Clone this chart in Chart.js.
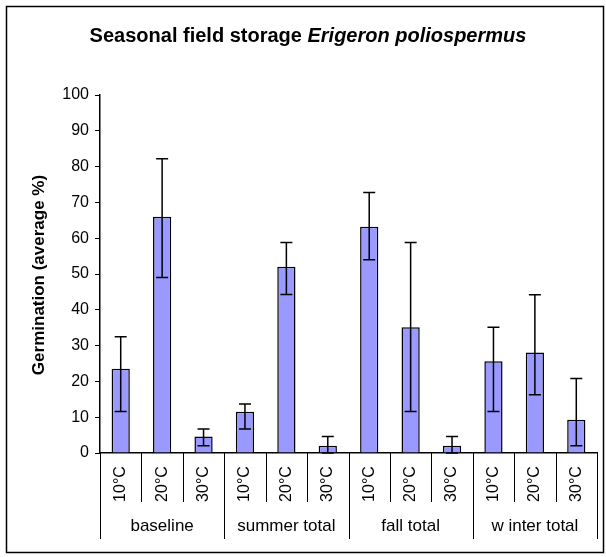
<!DOCTYPE html>
<html lang="en">
<head>
  <meta charset="UTF-8" />
  <title>Seasonal field storage</title>
  <script src="https://cdn.jsdelivr.net/npm/chart.js"></script>
  <style>
    html, body {
      margin: 0;
      padding: 0;
      background: #fff;
    }
    .chart-box {
      width: 606px;
      height: 557px;
      position: relative;
    }
  </style>
</head>
<body>
  <div class="chart-box">
    <canvas id="chart"></canvas>
  </div>
  <script>
    // Germination after seasonal field storage, per temperature
    const groups = ['baseline', 'summer total', 'fall total', 'w inter total'];
    const temps = ['10°C', '20°C', '30°C'];
    const germination = [23.5, 66, 4.6, 11.5, 52, 2, 63.2, 35.1, 2, 25.6, 28.1, 9.3];
    const errUpper = [32.5, 82.2, 6.7, 13.7, 58.8, 4.6, 72.8, 58.8, 4.6, 35.1, 44.2, 20.8];
    const errLower = [11.6, 49, 2, 6.7, 44.3, 0, 54, 11.6, 0, 11.6, 16.3, 2];
    const yTicks = [0, 10, 20, 30, 40, 50, 60, 70, 80, 90, 100];

    const labels = [];
    groups.forEach(g => temps.forEach(t => labels.push(t)));

    const FONT = '"Liberation Sans", Arial, sans-serif';

    // white background + outer frame + title + y axis title
    const framePlugin = {
      id: 'frame',
      beforeDraw(chart) {
        const ctx = chart.ctx;
        ctx.save();
        ctx.fillStyle = '#fff';
        ctx.fillRect(0, 0, chart.width, chart.height);
        ctx.restore();
      },
      afterDraw(chart) {
        const ctx = chart.ctx;
        ctx.save();
        ctx.strokeStyle = '#000';
        ctx.lineWidth = 1.5;
        ctx.strokeRect(6.5, 6.5, 597, 546);

        // title: plain part then italic species name
        const a = 'Seasonal field storage ';
        const b = 'Erigeron poliospermus';
        ctx.fillStyle = '#000';
        ctx.textBaseline = 'alphabetic';
        ctx.font = 'bold 20px ' + FONT;
        const wa = ctx.measureText(a).width;
        ctx.font = 'italic bold 20px ' + FONT;
        const wb = ctx.measureText(b).width;
        const x0 = 308 - (wa + wb) / 2;
        ctx.font = 'bold 20px ' + FONT;
        ctx.textAlign = 'left';
        ctx.fillText(a, x0, 42);
        ctx.font = 'italic bold 20px ' + FONT;
        ctx.fillText(b, x0 + wa, 42);

        // y axis title
        ctx.translate(39, 275);
        ctx.rotate(-Math.PI / 2);
        ctx.font = 'bold 17px ' + FONT;
        ctx.textAlign = 'center';
        ctx.textBaseline = 'middle';
        ctx.fillText('Germination (average %)', 0, 0);
        ctx.restore();
      }
    };

    // error bars from the upper/lower arrays
    const errorBarPlugin = {
      id: 'errorBars',
      afterDatasetsDraw(chart) {
        const ctx = chart.ctx;
        const y = chart.scales.y;
        const meta = chart.getDatasetMeta(0);
        ctx.save();
        ctx.strokeStyle = '#000';
        ctx.lineWidth = 1.5;
        meta.data.forEach((bar, i) => {
          const yHi = y.getPixelForValue(errUpper[i]);
          const yLo = y.getPixelForValue(errLower[i]);
          const cap = 6;
          ctx.beginPath();
          ctx.moveTo(bar.x, yHi);
          ctx.lineTo(bar.x, yLo);
          ctx.moveTo(bar.x - cap, yHi);
          ctx.lineTo(bar.x + cap, yHi);
          ctx.moveTo(bar.x - cap, yLo);
          ctx.lineTo(bar.x + cap, yLo);
          ctx.stroke();
        });
        ctx.restore();
      }
    };

    // two-level category table under the x axis
    const groupAxisPlugin = {
      id: 'groupAxis',
      afterDraw(chart) {
        const ctx = chart.ctx;
        const x = chart.scales.x;
        const area = chart.chartArea;
        const top = area.bottom;
        const n = labels.length;
        const step = x.getPixelForValue(1) - x.getPixelForValue(0);
        const edge = i => x.getPixelForValue(i) - step / 2;
        ctx.save();
        ctx.strokeStyle = '#000';
        ctx.lineWidth = 1;
        for (let i = 0; i <= n; i++) {
          const px = Math.round(edge(i)) + 0.5;
          const len = (i % temps.length === 0) ? 86 : 49;
          ctx.beginPath();
          ctx.moveTo(px, top);
          ctx.lineTo(px, top + len);
          ctx.stroke();
        }
        ctx.fillStyle = '#000';
        ctx.font = '16px ' + FONT;
        // rotated temperature labels
        labels.forEach((t, i) => {
          ctx.save();
          ctx.translate(x.getPixelForValue(i), top + 31);
          ctx.rotate(-Math.PI / 2);
          ctx.textAlign = 'center';
          ctx.textBaseline = 'middle';
          ctx.fillText(t, 0, 0);
          ctx.restore();
        });
        // group labels
        ctx.font = '17px ' + FONT;
        ctx.textAlign = 'center';
        ctx.textBaseline = 'middle';
        groups.forEach((g, gi) => {
          const mid = (edge(gi * 3) + edge(gi * 3 + 3)) / 2;
          ctx.fillText(g, mid, top + 73);
        });
        ctx.restore();
      }
    };

    new Chart(document.getElementById('chart'), {
      type: 'bar',
      data: {
        labels: labels,
        datasets: [{
          label: 'Germination',
          data: germination,
          backgroundColor: '#9999ff',
          borderColor: '#000',
          borderWidth: 1.5,
          categoryPercentage: 1,
          barPercentage: 0.44
        }]
      },
      options: {
        responsive: true,
        maintainAspectRatio: false,
        animation: false,
        layout: {
          padding: { left: 0, top: 95, right: 9, bottom: 0 }
        },
        plugins: {
          legend: { display: false },
          tooltip: { enabled: false },
          title: { display: false }
        },
        scales: {
          x: {
            grid: { display: false },
            border: { display: true, color: '#000', width: 1.5 },
            ticks: { display: false },
            afterFit(scale) { scale.height = 104; }
          },
          y: {
            min: 0,
            max: 100,
            afterBuildTicks(scale) {
              scale.ticks = yTicks.map(v => ({ value: v }));
            },
            grid: {
              drawOnChartArea: false,
              drawTicks: true,
              tickLength: 5,
              color: '#000',
              lineWidth: 1
            },
            border: { display: true, color: '#000', width: 1.5 },
            ticks: {
              color: '#000',
              padding: 6,
              font: { family: FONT, size: 16 }
            },
            afterFit(scale) { scale.width = 100; }
          }
        }
      },
      plugins: [framePlugin, errorBarPlugin, groupAxisPlugin]
    });
  </script>
</body>
</html>
